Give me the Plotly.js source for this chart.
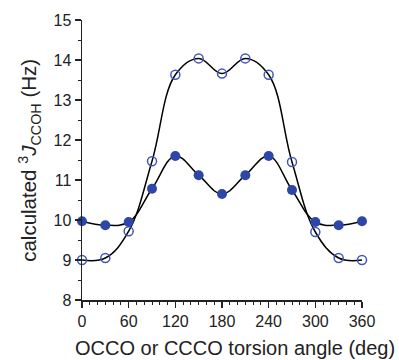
<!DOCTYPE html>
<html>
<head>
<meta charset="utf-8">
<script src="https://cdn.plot.ly/plotly-3.0.1.min.js"></script>
<style>html,body{margin:0;padding:0;background:#fff;}#chart{width:399px;height:360px;}</style>
</head>
<body>
<div id="chart"></div>
<script>
const angles = [0, 30, 60, 90, 120, 150, 180, 210, 240, 270, 300, 330, 360];
const filledJ = [9.97, 9.87, 9.95, 10.78, 11.6, 11.12, 10.65, 11.12, 11.6, 10.75, 9.95, 9.87, 9.97];
const openJ = [9.0, 9.05, 9.72, 11.47, 13.63, 14.04, 13.66, 14.04, 13.63, 11.45, 9.7, 9.05, 9.0];
const xTicks = [0, 60, 120, 180, 240, 300, 360];
const yTicks = [8, 9, 10, 11, 12, 13, 14, 15];

const font = 'Liberation Sans, Arial, Helvetica, sans-serif';
const markerBlue = '#2c47a8';
const openBlue = '#4257bb';

const traces = [
  {x: angles, y: openJ, mode: 'lines', line: {shape: 'spline', smoothing: 1.1, color: '#000', width: 1.5}, hoverinfo: 'skip', cliponaxis: false},
  {x: angles, y: filledJ, mode: 'lines', line: {shape: 'spline', smoothing: 1.1, color: '#000', width: 1.5}, hoverinfo: 'skip', cliponaxis: false},
  {x: angles, y: openJ, mode: 'markers', marker: {symbol: 'circle-open', size: 9, color: openBlue, line: {width: 1.5, color: openBlue}}, cliponaxis: false},
  {x: angles, y: filledJ, mode: 'markers', marker: {symbol: 'circle', size: 10, color: markerBlue}, cliponaxis: false}
];

const layout = {
  width: 399, height: 360,
  margin: {l: 82, r: 37, t: 20, b: 60},
  paper_bgcolor: '#fff', plot_bgcolor: '#fff',
  showlegend: false,
  font: {family: font, color: '#222', size: 16},
  xaxis: {
    range: [0, 360], tickvals: xTicks, ticktext: xTicks.map(String),
    showgrid: false, zeroline: false, showline: true, linecolor: '#222', linewidth: 1.5,
    ticks: 'outside', ticklen: 6, tickwidth: 1.5, tickcolor: '#222',
    tickfont: {size: 16, family: font, color: '#222'},
    minor: {dtick: 10, ticks: 'outside', ticklen: 3, tickwidth: 1, tickcolor: '#222', showgrid: false}
  },
  yaxis: {
    range: [8, 15], tickvals: yTicks, ticktext: yTicks.map(String),
    showgrid: false, zeroline: false, showline: true, linecolor: '#222', linewidth: 1.5,
    ticks: 'outside', ticklen: 6, tickwidth: 1.5, tickcolor: '#222',
    tickfont: {size: 16, family: font, color: '#222'},
    minor: {dtick: 0.5, ticks: 'outside', ticklen: 3, tickwidth: 1, tickcolor: '#222', showgrid: false}
  },
  annotations: [
    {text: 'OCCO or CCCO torsion angle (deg)', xref: 'paper', yref: 'paper', x: 0.545, y: -0.218, xanchor: 'center', yanchor: 'bottom', showarrow: false, font: {size: 20, family: font, color: '#222'}},
    {text: 'calculated <sup>3</sup><i>J</i><sub>CCOH</sub> (Hz)', xref: 'paper', yref: 'paper', x: -0.19, y: 0.5, xanchor: 'center', yanchor: 'middle', textangle: -90, showarrow: false, font: {size: 20.5, family: font, color: '#222'}}
  ]
};

Plotly.newPlot('chart', traces, layout, {displayModeBar: false, staticPlot: true});
</script>
</body>
</html>
